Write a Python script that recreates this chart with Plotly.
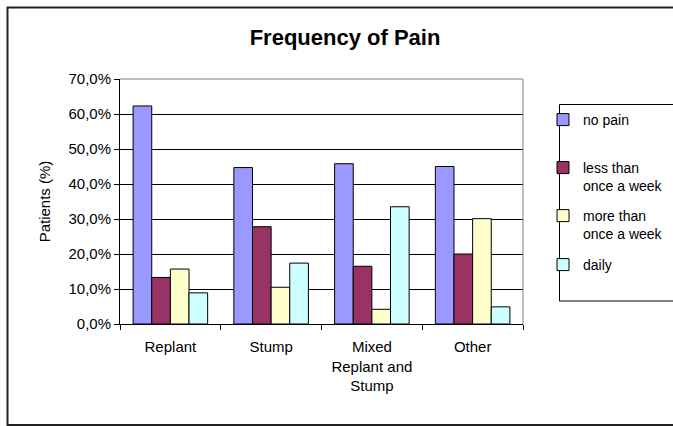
import plotly.graph_objects as go

categories = ["Replant", "Stump", "Mixed<br>Replant and<br>Stump", "Other"]
series_names = ["no pain", "less than<br>once a week", "more than<br>once a week", "daily"]
no_pain = [0.623, 0.447, 0.458, 0.450]
less_than_weekly = [0.133, 0.278, 0.165, 0.200]
more_than_weekly = [0.157, 0.105, 0.042, 0.301]
daily = [0.089, 0.174, 0.335, 0.049]
series_values = [no_pain, less_than_weekly, more_than_weekly, daily]
colors = ["#9999FF", "#993366", "#FFFFCC", "#CCFFFF"]
y_tick_vals = [0, 0.1, 0.2, 0.3, 0.4, 0.5, 0.6, 0.7]

W, H = 673, 426
ML, MR, MT, MB = 120, 150, 79, 102
pw = W - ML - MR
ph = H - MT - MB

def px(x):
    return (x - ML) / pw

def py(y):
    return (H - MB - y) / ph

FONT = "Liberation Sans, Arial, sans-serif"

legend_ids = ["legend", "legend2", "legend3", "legend4"]
legend_tops = [104, 152, 200, 249]

fig = go.Figure()
for name, vals, col, lid in zip(series_names, series_values, colors, legend_ids):
    fig.add_trace(go.Bar(
        x=categories, y=vals, name=name,
        marker=dict(color=col, line=dict(color="black", width=1)),
        legend=lid,
    ))

legend_common = dict(x=px(543), xanchor="left", yanchor="top",
                     xref="paper", yref="paper",
                     font=dict(size=14, family=FONT),
                     bgcolor="rgba(0,0,0,0)", borderwidth=0, valign="top")

fig.update_layout(
    width=W, height=H,
    margin=dict(l=ML, r=MR, t=MT, b=MB, autoexpand=False),
    paper_bgcolor="white", plot_bgcolor="white",
    separators=", ",
    barmode="group", bargap=0.26, bargroupgap=0,
    font=dict(family=FONT, size=15, color="black"),
    title=dict(text="<b>Frequency of Pain</b>", x=px(345), xref="paper",
               xanchor="center", y=1 - 37 / H, yanchor="middle",
               font=dict(size=22, family=FONT)),
    showlegend=True,
    xaxis=dict(showline=True, linecolor="black", linewidth=1,
               ticks="outside", tickson="boundaries", ticklen=5,
               tickcolor="black", showgrid=False, ticklabelstandoff=9,
               tickfont=dict(size=15)),
    yaxis=dict(range=[0, 0.7], tickvals=y_tick_vals, tickformat=".1%",
               showline=True, linecolor="black", linewidth=1,
               ticks="outside", ticklen=5, tickcolor="black",
               showgrid=True, gridcolor="black", gridwidth=1,
               zeroline=False, tickfont=dict(size=15),
               title=dict(text="Patients (%)", font=dict(size=15), standoff=14)),
    shapes=[
        dict(type="rect", xref="paper", yref="paper",
             x0=px(7.5), x1=px(700), y0=py(425), y1=py(7.5),
             line=dict(color="#222222", width=2), layer="below"),
        dict(type="line", xref="paper", yref="paper", x0=0, x1=1, y0=1, y1=1,
             line=dict(color="#808080", width=1), layer="above"),
        dict(type="line", xref="paper", yref="paper", x0=1, x1=1, y0=0, y1=1,
             line=dict(color="#808080", width=1), layer="above"),
        dict(type="rect", xref="paper", yref="paper",
             x0=px(559.5), x1=px(700), y0=py(301), y1=py(104.5),
             line=dict(color="black", width=1), layer="below"),
    ],
)
for lid, top in zip(legend_ids, legend_tops):
    fig.update_layout({lid: dict(legend_common, y=py(top))})

fig.write_html("out.html", config={"displayModeBar": False},
               post_script="document.body.style.margin='0';")
